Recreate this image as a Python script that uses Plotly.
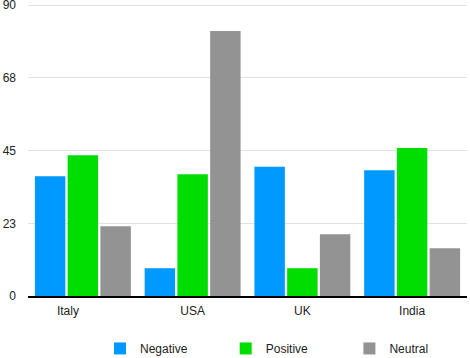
import plotly.graph_objects as go

categories = ["Italy", "USA", "UK", "India"]
tick_labels = ["Italy" + "\u00a0" * 9, "USA", "UK", "India"]
series_names = ["Negative", "Positive", "Neutral"]
negative = [37.1, 8.6, 40.0, 38.9]
positive = [43.6, 37.7, 8.6, 45.8]
neutral = [21.6, 82.0, 19.1, 14.8]
y_tickvals = [0, 22.5, 45, 67.5, 90]
y_ticktext = ["0", "23", "45", "68", "90"]

font = "Liberation Sans, Arial, sans-serif"
colors = ["#0099FF", "#00DD00", "#939393"]
pads = [10, 11, 0]

fig = go.Figure()
for name, vals, color, pad in zip(series_names, [negative, positive, neutral], colors, pads):
    fig.add_trace(go.Bar(x=categories, y=vals, name=name + "\u00a0" * pad,
                         marker=dict(color=color, line=dict(width=0))))

fig.update_layout(
    width=470, height=358,
    margin=dict(l=28, r=3, t=3, b=62, autoexpand=False),
    plot_bgcolor="white", paper_bgcolor="white",
    barmode="group", bargap=0.105, bargroupgap=0.07,
    font=dict(family=font, size=12, color="#222"),
    showlegend=True,
    legend=dict(orientation="h", x=0.164, xanchor="left", y=-0.179, yanchor="middle",
                font=dict(size=12, color="#222"), traceorder="normal"),
)
fig.update_xaxes(
    tickmode="array", tickvals=categories, ticktext=tick_labels,
    showline=True, linecolor="black", linewidth=1.5, ticks="",
    showgrid=False, automargin=False, fixedrange=True, ticklabelstandoff=3,
)
fig.update_yaxes(
    range=[0, 90.7], tickmode="array", tickvals=y_tickvals, ticktext=y_ticktext,
    showgrid=True, gridcolor="#e2e2e2", gridwidth=1, zeroline=False,
    showline=False, ticks="", automargin=False, fixedrange=True, ticklabelstandoff=11,
    ticklabeloverflow="allow",
)

fig.write_html("out.html", config={"displayModeBar": False},
               post_script="document.body.style.margin='0';")
